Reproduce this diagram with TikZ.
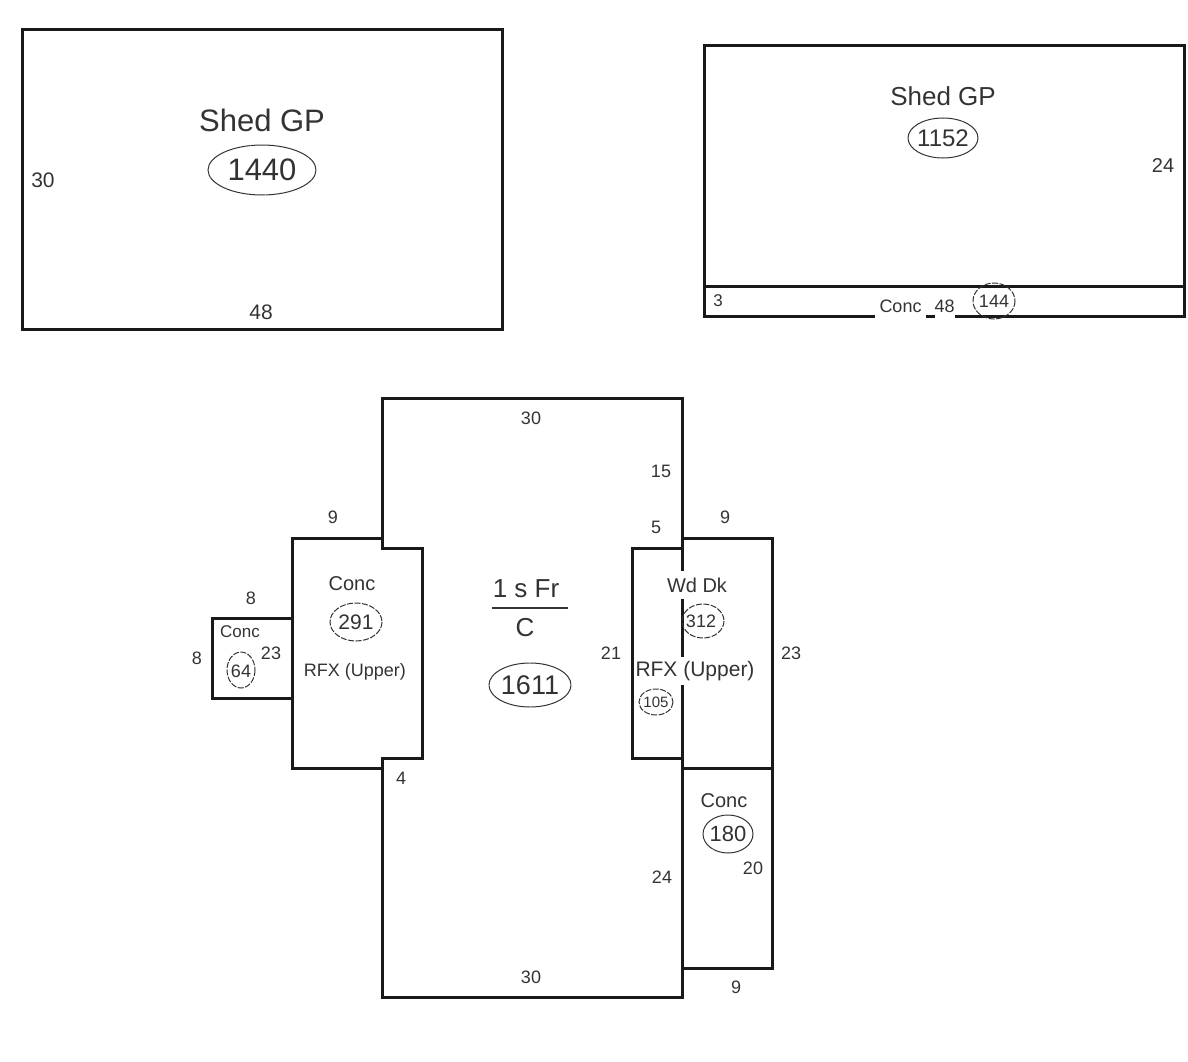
\documentclass[tikz,border=0pt]{standalone}
\usepackage{fontspec}
\setmainfont{Liberation Sans}
\usetikzlibrary{calc}
\tikzset{
  wall/.style={line width=3pt,black!90,line join=miter},
  txt/.style={inner sep=0pt,text=black!80,font=\fontsize{#1}{#1}\selectfont},
  blank/.style={txt=#1,fill=white},
  loop/.style={draw=black!80,line width=1pt,dash pattern=on 6pt off 1.5pt},
}
\begin{document}
\begin{tikzpicture}[x=1pt,y=-1pt]
  \useasboundingbox (0,0) rectangle (1188,1062);

  \draw[wall] (22,30) rectangle (502,329);
  \node[txt=31] (shedA) at (262,120) {Shed GP};
  \draw[loop,dash pattern=on 60pt off 0.5pt] (262,170) ellipse (54 and 25);
  \node[txt=31] (shedAarea) at (262,170) {1440};
  \node[txt=21] (shedAh) at (43,180) {30};
  \node[txt=21] (shedAw) at (261,312) {48};

  \draw[wall] (704,46) rectangle (1184,316);
  \draw[wall] (704,286) -- (1184,286);
  \node[txt=26] (shedB) at (943,96) {Shed GP};
  \draw[loop,dash pattern=on 50pt off 0.5pt] (943,138) ellipse (35 and 20);
  \node[txt=24] (shedBarea) at (943,138) {1152};
  \node[txt=20] (shedBh) at (1163,166) {24};
  \node[txt=17] (padh) at (718,301) {3};
  \node[blank=18,minimum width=51pt,minimum height=26pt] (pad) at (900.5,306) {Conc};
  \node[blank=18,minimum width=19pt,minimum height=26pt] (padw) at (944.5,306) {48};
  \draw[loop] (994,301) ellipse (21 and 18);
  \node[txt=18] (padarea) at (994,301) {144};

  \draw[wall] (382,398) -- (682,398) -- (682,997) -- (382,997) -- (382,758) -- (422,758)
    -- (422,548) -- (382,548) -- cycle;
  \draw[wall] (382,538) -- (292,538) -- (292,768) -- (382,768);
  \draw[wall] (292,618) -- (212,618) -- (212,698) -- (292,698);
  \draw[wall] (682,548) -- (632,548) -- (632,758) -- (682,758);
  \draw[wall] (682,538) -- (772,538) -- (772,968) -- (682,968);
  \draw[wall] (682,768) -- (772,768);

  \node[txt=26] (first) at (526,589) {1 s Fr};
  \draw[black!80,line width=1.4pt] (492,608) -- (568,608);
  \node[txt=26] (cls) at (525,628) {C};
  \draw[loop,dash pattern=on 50pt off 0.5pt] (530,685) ellipse (41 and 22);
  \node[txt=27] (firstarea) at (530,685) {1611};
  \node[txt=18] (topw) at (531,418) {30};
  \node[txt=18] (upr) at (661,471) {15};
  \node[txt=18] (notch) at (656,527) {5};
  \node[txt=18] (midh) at (611,653) {21};
  \node[txt=18] (lwr) at (662,877) {24};
  \node[txt=18] (botw) at (531,977) {30};
  \node[txt=18] (stepw) at (401,778) {4};

  \node[txt=20] (concA) at (352,584) {Conc};
  \draw[loop] (356,622) ellipse (26 and 19);
  \node[txt=21] (concAarea) at (356,622) {291};
  \node[txt=18] (rfxA) at (355,672) {RFX (Upper)};
  \node[txt=18] (concAw) at (333,517) {9};

  \node[txt=17] (concB) at (240,632) {Conc};
  \draw[loop] (241,670) ellipse (14 and 18);
  \node[txt=18] (concBarea) at (241,671) {64};
  \node[txt=18] (concBw) at (251,598) {8};
  \node[txt=18] (concBh) at (197,658) {8};
  \node[txt=18] (concAh) at (271,653) {23};

  \node[blank=20,minimum height=28pt] (deck) at (697,585) {Wd Dk};
  \draw[loop] (703,621) ellipse (21 and 17);
  \node[txt=18] (deckarea) at (701,621) {312};
  \node[blank=21,minimum height=28pt] (rfxB) at (695,671) {RFX (Upper)};
  \draw[loop] (656,702) ellipse (17 and 13);
  \node[txt=15] (rfxBarea) at (656,702) {105};
  \node[txt=18] (deckw) at (725,517) {9};
  \node[txt=18] (deckh) at (791,653) {23};

  \node[txt=20] (concC) at (724,801) {Conc};
  \draw[loop,dash pattern=on 50pt off 0.5pt] (728,834) ellipse (25 and 19);
  \node[txt=22] (concCarea) at (728,834) {180};
  \node[txt=18] (concCh) at (753,868) {20};
  \node[txt=18] (concCw) at (736,987) {9};
\end{tikzpicture}
\end{document}
